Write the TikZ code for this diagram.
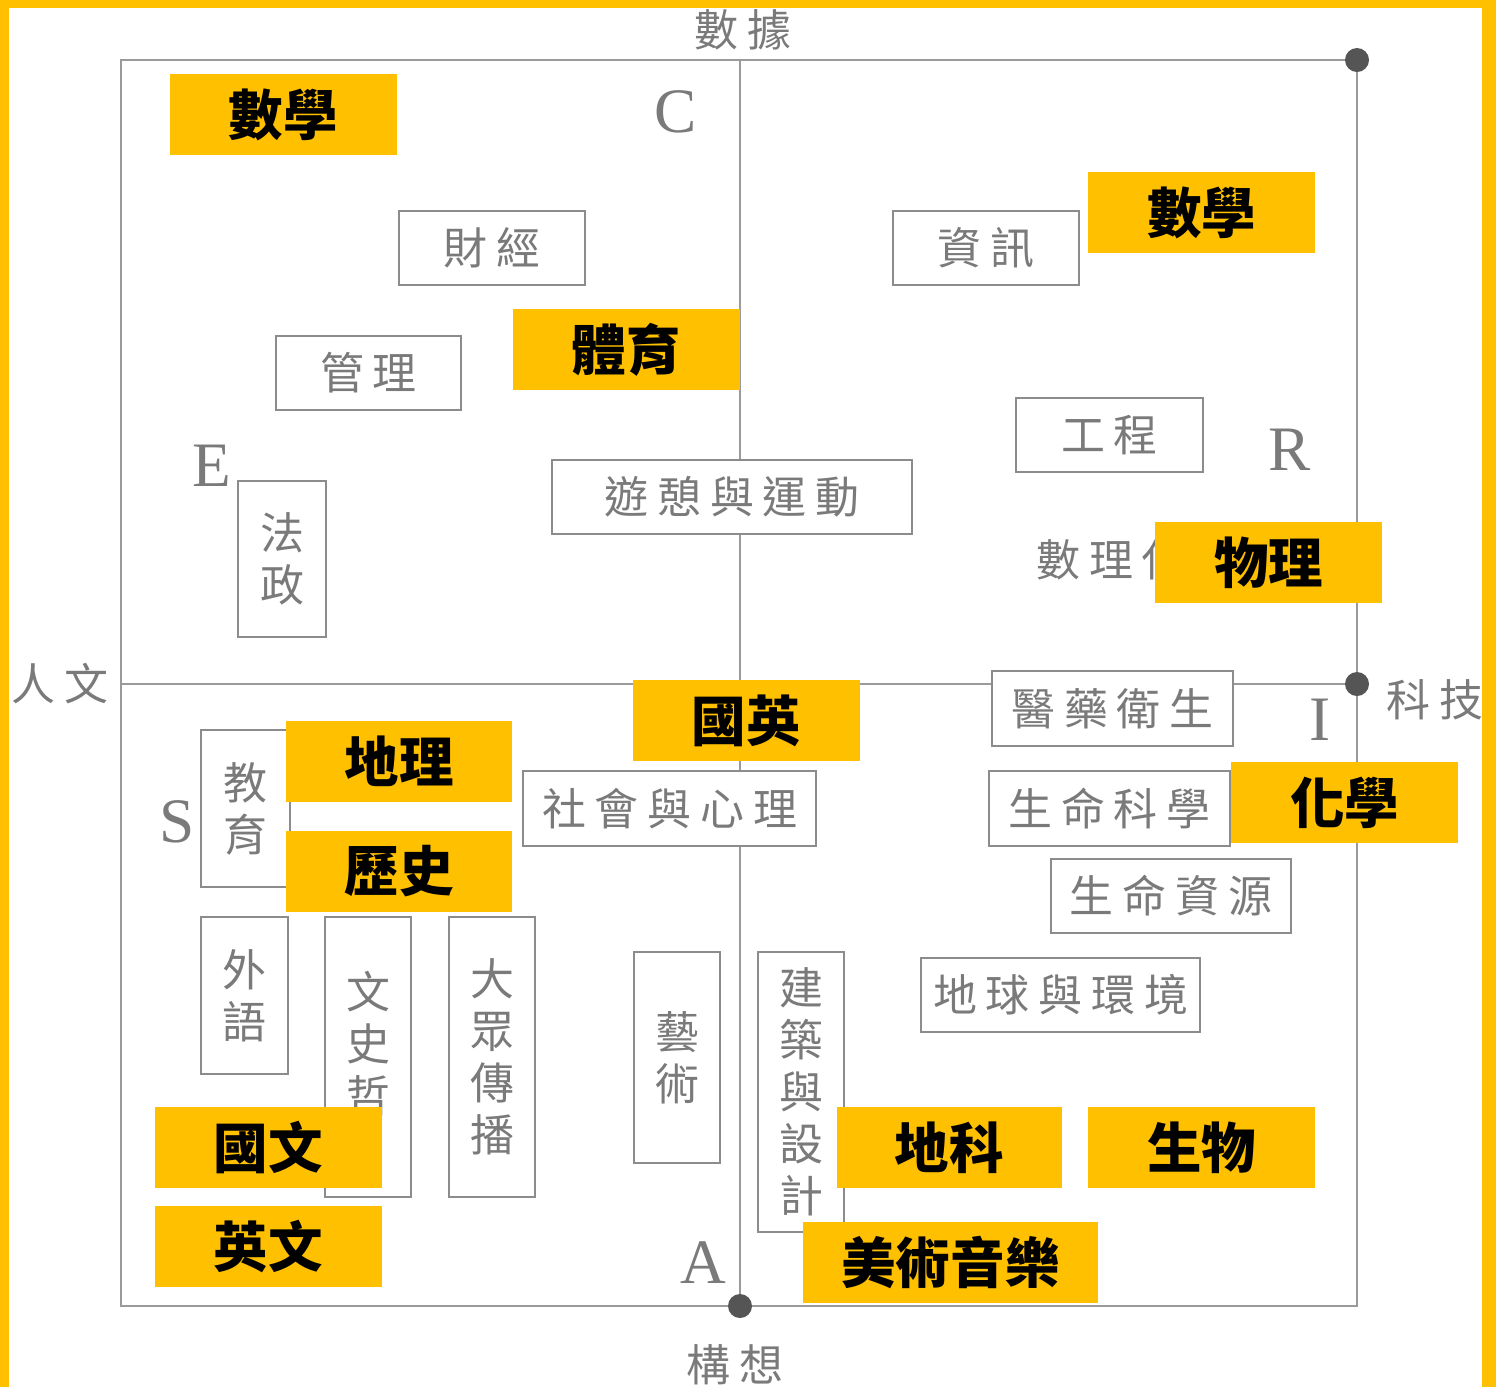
\documentclass[tikz,border=0pt]{standalone}
\usepackage{fontspec}
\setmainfont{Liberation Serif}
\newfontfamily\cjkgray[LetterSpace=20]{Noto Sans CJK TC}
\newfontfamily\cjkheavy{Noto Sans CJK TC Black}
\newcommand{\fieldfont}{\cjkgray\fontsize{12.5}{14.8}\selectfont}
\newcommand{\subjfont}{\cjkheavy\fontsize{15.5}{18}\selectfont}
\newcommand{\letterfont}{\fontsize{18}{20}\selectfont}
\definecolor{subjyellow}{HTML}{FFC000}
\definecolor{axisgray}{HTML}{9A9A9A}
\definecolor{boxgray}{HTML}{8C8C8C}
\definecolor{txtgray}{HTML}{7A7A7A}
\definecolor{dotgray}{HTML}{555555}
\tikzset{
  wh/.style 2 args={minimum width=#1*0.01cm, minimum height=#2*0.01cm},
  field/.style={draw=boxgray, line width=0.6pt, fill=white, text=txtgray, font=\fieldfont, inner sep=0pt},
  subject/.style={fill=subjyellow, text=black, font=\subjfont, inner sep=0pt},
  axislabel/.style={text=txtgray, font=\fieldfont},
  letter/.style={text=txtgray, font=\letterfont},
  axisline/.style={draw=axisgray, line width=0.6pt},
}
\begin{document}
\begin{tikzpicture}[x=0.01cm, y=-0.01cm]
  \useasboundingbox (0,0) rectangle (1496,1387);
  % frame
  \fill[subjyellow] (0,0) rectangle (1496,1387);
  \fill[white] (9,8) rectangle (1482,1387);
  % axis
  \coordinate (tl) at (121,60);
  \coordinate (br) at (1357,1306);
  \coordinate (data) at (740,60);
  \coordinate (idea) at (740,1306);
  \coordinate (human) at (121,684);
  \coordinate (tech) at (1357,684);
  \coordinate (corner) at (1357,60);
  \draw[axisline] (tl) rectangle (br);
  \draw[axisline] (data) -- (idea);
  \draw[axisline] (human) -- (tech);
  \foreach \p in {corner,tech,idea}
    \fill[dotgray] (\p) circle (12);
  % axis labels
  \node[axislabel] (ldata) at (743,30) {數據};
  \node[axislabel] (lidea) at (735,1365) {構想};
  \node[axislabel] (lhuman) at (60,684) {人文};
  \node[axislabel] (ltech) at (1435,700) {科技};
  % letters
  \node[letter] (lc) at (676,112) {C};
  \node[letter] (le) at (212,466) {E};
  \node[letter] (lr) at (1290,450) {R};
  \node[letter] (li) at (1320,720) {I};
  \node[letter] (ls) at (177,822) {S};
  \node[letter] (la) at (703,1263) {A};
  % fields
  \node[field, wh={186}{74}] (finance) at (492,248) {財經};
  \node[field, wh={185}{74}] (manage) at (368.5,373) {管理};
  \node[field, wh={360}{74}] (leisure) at (732,497) {遊憩與運動};
  \node[field, wh={88}{156}, align=center] (law) at (282,559) {法\\政};
  \node[field, wh={186}{74}] (info) at (986,248) {資訊};
  \node[field, wh={187}{74}] (engin) at (1109.5,435) {工程};
  \node[axislabel, anchor=west] (mathsci) at (1024,560) {數理化};
  \node[field, wh={241}{75}] (medic) at (1112.5,708.5) {醫藥衛生};
  \node[field, wh={241}{75}] (life) at (1109.5,808.5) {生命科學};
  \node[field, wh={240}{74}] (liferes) at (1171,896) {生命資源};
  \node[field, wh={279}{74}] (earth) at (1060.5,995) {地球與環境};
  \node[field, wh={293}{75}] (social) at (669.5,808.5) {社會與心理};
  \node[field, wh={89}{157}, align=center] (educ) at (245.5,808.5) {教\\育};
  \node[field, wh={87}{157}, align=center] (lang) at (244.5,995.5) {外\\語};
  \node[field, wh={86}{280}, align=center] (lithist) at (368,1057) {文\\史\\哲\\[-6pt]};
  \node[field, wh={86}{280}, align=center] (media) at (492,1057) {大\\眾\\傳\\播};
  \node[field, wh={86}{211}, align=center] (arts) at (677,1057.5) {藝\\術};
  \node[field, wh={86}{280}, align=center] (archi) at (801,1092) {建\\築\\與\\設\\計};
  % subjects
  \node[subject, wh={227}{81}] (mathA) at (283.5,114.5) {數學};
  \node[subject, wh={227}{81}] (mathB) at (1201.5,212.5) {數學};
  \node[subject, wh={227}{81}] (pe) at (626.5,349.5) {體育};
  \node[subject, wh={227}{81}] (phys) at (1268.5,562.5) {物理};
  \node[subject, wh={227}{81}] (chieng) at (746.5,720.5) {國英};
  \node[subject, wh={226}{81}] (geog) at (399,761.5) {地理};
  \node[subject, wh={226}{81}] (hist) at (399,871.5) {歷史};
  \node[subject, wh={227}{81}] (chem) at (1344.5,802.5) {化學};
  \node[subject, wh={227}{81}] (chin) at (268.5,1147.5) {國文};
  \node[subject, wh={227}{81}] (engl) at (268.5,1246.5) {英文};
  \node[subject, wh={225}{81}] (geosci) at (949.5,1147.5) {地科};
  \node[subject, wh={227}{81}] (bio) at (1201.5,1147.5) {生物};
  \node[subject, wh={295}{81}] (artmus) at (950.5,1262.5) {美術音樂};
\end{tikzpicture}
\end{document}
